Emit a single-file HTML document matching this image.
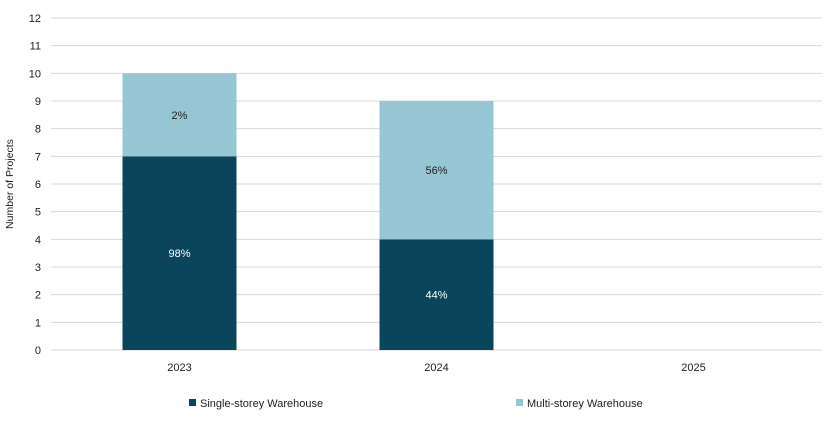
<!DOCTYPE html>
<html><head><meta charset="utf-8"><style>
body{margin:0;background:#fff;font-family:"Liberation Sans",sans-serif}
svg text{font-family:"Liberation Sans",sans-serif;font-size:11px;fill:#222}
</style></head><body>
<svg width="833" height="420">
<g id="grid"></g>
<g id="yt"></g>
<g id="bars"></g>
<g id="xt"></g>
<text transform="translate(13,184) rotate(-90)" text-anchor="middle" style="font-size:10.5px">Number of Projects</text>
<g>
<rect x="189" y="399" width="7" height="7" fill="#0b455c"/>
<text x="200" y="407">Single-storey Warehouse</text>
<rect x="516" y="399" width="7" height="7" fill="#96c5d4"/>
<text x="527" y="407">Multi-storey Warehouse</text>
</g>
</svg>
<script>
const categories=["2023","2024","2025"];
const singleValues=[7,4,0];
const multiValues=[3,5,0];
const singleLabels=["98%","44%",""];
const multiLabels=["2%","56%",""];
const yTicks=[0,1,2,3,4,5,6,7,8,9,10,11,12];
const NS="http://www.w3.org/2000/svg";
const x0=51,x1=822,yb=350,yt=18,ymax=12;
const y=v=>yb-(yb-yt)*v/ymax;
const bw=(x1-x0)/categories.length;
const xc=i=>x0+bw*(i+0.5);
const barW=114;
function mk(t,a,p){const e=document.createElementNS(NS,t);for(const k in a)e.setAttribute(k,a[k]);p.appendChild(e);return e;}
const G=document.getElementById('grid'),YT=document.getElementById('yt'),B=document.getElementById('bars'),XT=document.getElementById('xt');
yTicks.forEach(v=>{
const l=mk('line',{x1:x0,x2:x1,y1:y(v),y2:y(v),stroke:'#d9d9d9','stroke-width':1},G);


const t=mk('text',{x:41,y:y(v)+4,'text-anchor':'end'},YT);t.textContent=v;


});
categories.forEach((c,i)=>{
const cx=xc(i);
const r1=mk('rect',{x:cx-barW/2,y:y(singleValues[i]),width:barW,height:y(0)-y(singleValues[i]),fill:'#0b455c'},B);


const r2=mk('rect',{x:cx-barW/2,y:y(singleValues[i]+multiValues[i]),width:barW,height:y(singleValues[i])-y(singleValues[i]+multiValues[i]),fill:'#96c5d4'},B);


if(singleLabels[i]){const t=mk('text',{x:cx,y:y(singleValues[i]/2)+4,'text-anchor':'middle',style:'fill:#fff'},B);t.textContent=singleLabels[i];

}
if(multiLabels[i]){const t=mk('text',{x:cx,y:y(singleValues[i]+multiValues[i]/2)+4,'text-anchor':'middle'},B);t.textContent=multiLabels[i];

}
const t=mk('text',{x:cx,y:371,'text-anchor':'middle'},XT);t.textContent=c;


});
</script>
</body></html>
